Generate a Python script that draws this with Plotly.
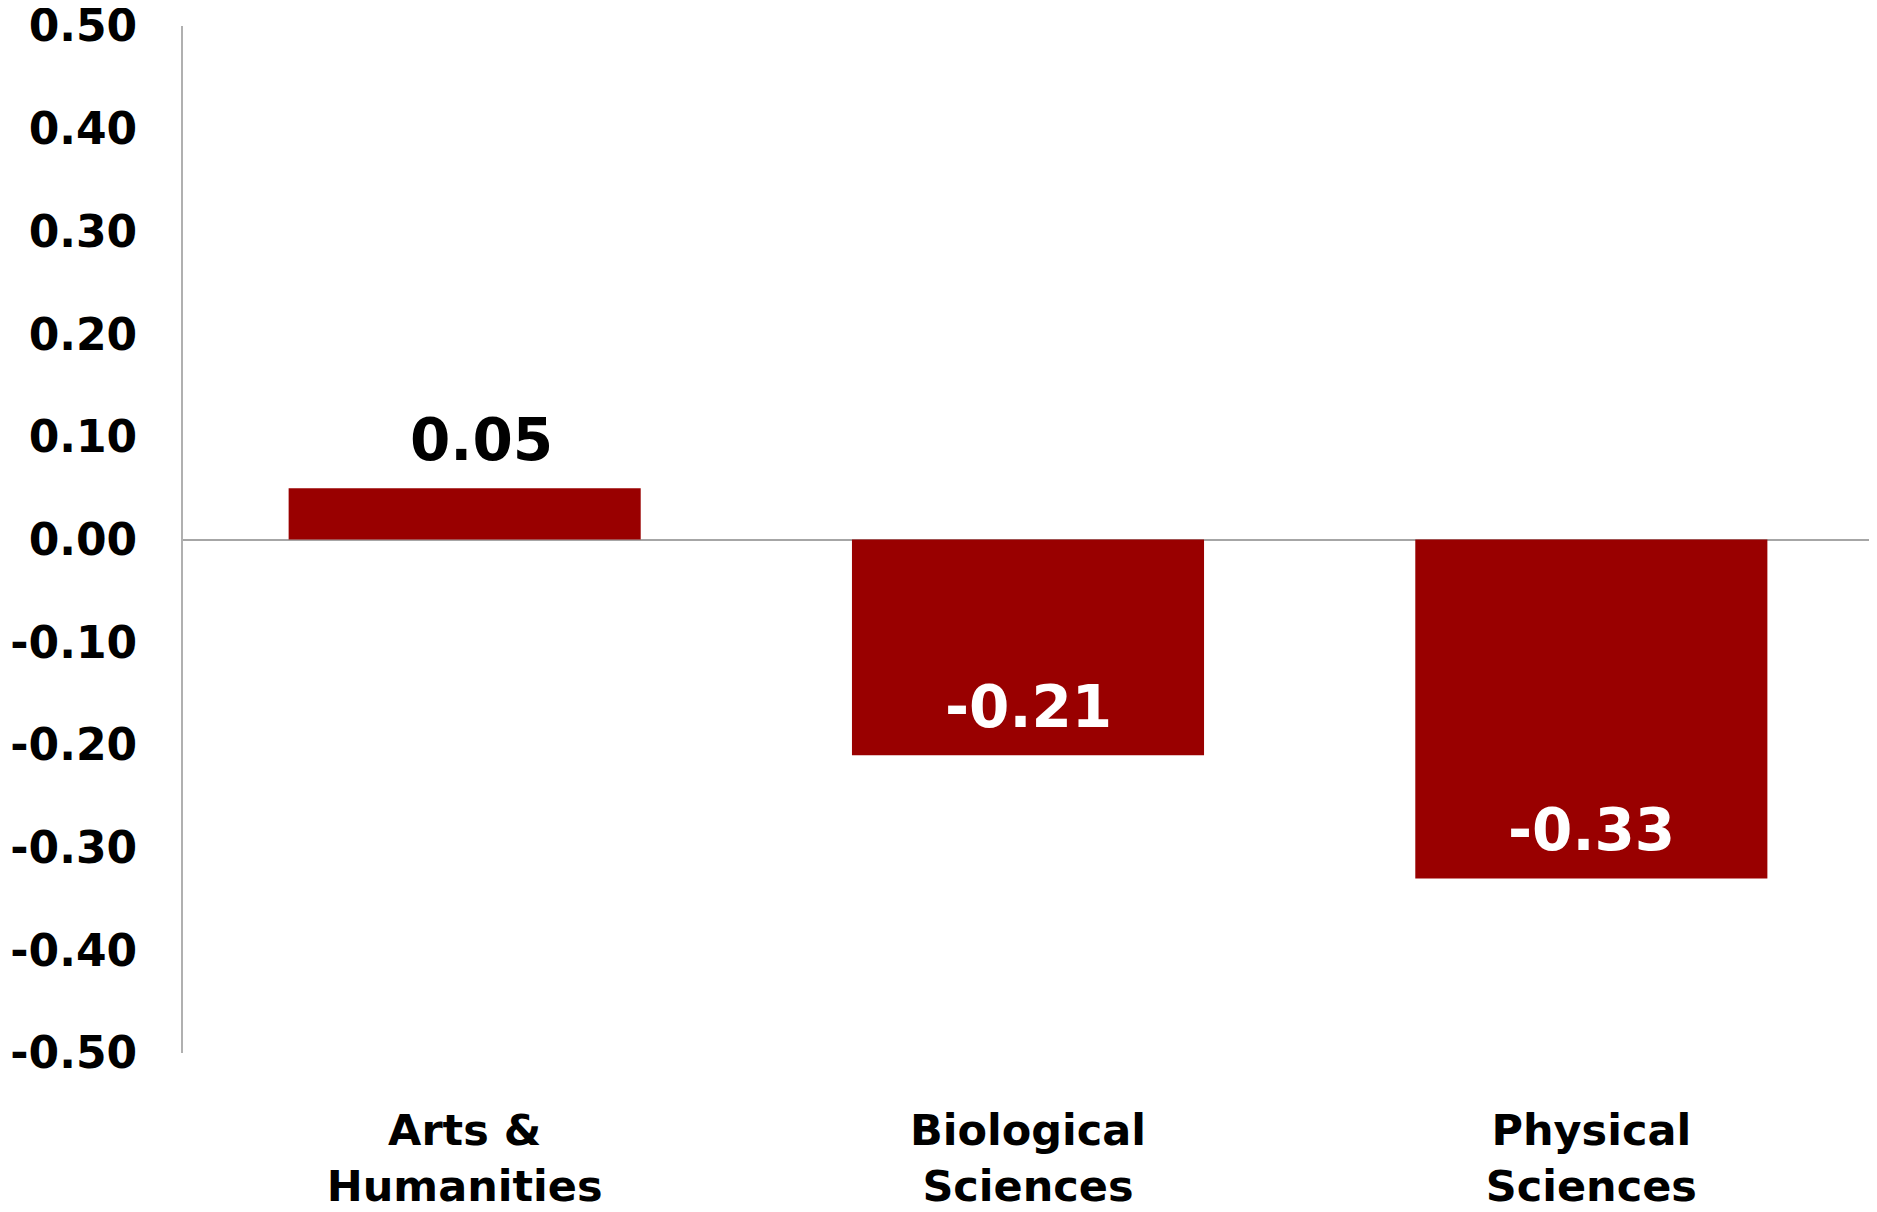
import plotly.graph_objects as go

categories = ["Arts &<br>Humanities", "Biological<br>Sciences", "Physical<br>Sciences"]
values = [0.05, -0.21, -0.33]
label_text = ["0.05", "-0.21", "-0.33"]
label_colors = ["#000000", "#ffffff", "#ffffff"]
label_xshift = [17, 0, 0]
tick_vals = [0.5, 0.4, 0.3, 0.2, 0.1, 0.0, -0.1, -0.2, -0.3, -0.4, -0.5]
tick_text = ["0.50", "0.40", "0.30", "0.20", "0.10", "0.00", "-0.10", "-0.20", "-0.30", "-0.40", "-0.50"]

FONT = "DejaVu Sans"

fig = go.Figure()
fig.add_trace(go.Bar(
    x=categories, y=values,
    marker=dict(color="#990000", line=dict(width=0)),
    hoverinfo="skip",
))

for c, v, t, col, xs in zip(categories, values, label_text, label_colors, label_xshift):
    fig.add_annotation(
        x=c, y=v, text=t, showarrow=False,
        xanchor="center", yanchor="bottom", yshift=12, xshift=xs,
        font=dict(family=FONT, size=58, color=col, weight="bold"),
    )

fig.update_layout(
    width=1869, height=1204,
    margin=dict(l=175, r=4, t=18, b=159, autoexpand=False),
    paper_bgcolor="white", plot_bgcolor="white",
    showlegend=False,
    bargap=0.375,
    font=dict(family=FONT, color="#000000", weight="bold"),
)
fig.update_xaxes(
    automargin=False, ticklabeloverflow="allow",
    showgrid=False, showline=False, zeroline=False, ticks="",
    tickfont=dict(family=FONT, size=43, color="#000000", weight="bold"),
    ticklabelstandoff=48,
)
fig.update_yaxes(
    automargin=False, ticklabeloverflow="allow",
    range=[-0.5, 0.5], tickvals=tick_vals, ticktext=tick_text,
    showgrid=False, showline=True, linecolor="#b0b0b0", linewidth=2,
    zeroline=True, zerolinecolor="#a6a6a6", zerolinewidth=2,
    ticks="", ticklabelstandoff=35,
    tickfont=dict(family=FONT, size=44, color="#000000", weight="bold"),
)

fig.write_html("out.html")
